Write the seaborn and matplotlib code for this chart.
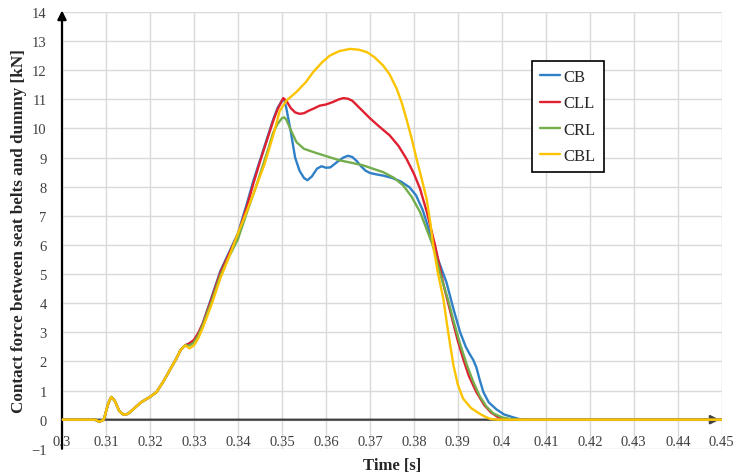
import pandas as pd
import matplotlib
matplotlib.use("Agg")
import matplotlib.pyplot as plt
import seaborn as sns

# 数据
early_t = [0.300, 0.305, 0.3075, 0.3085, 0.3095, 0.3105, 0.3112, 0.312, 0.313, 0.314,
           0.315, 0.3165, 0.318, 0.320, 0.3215, 0.323, 0.3245, 0.326, 0.327, 0.328]
early_f = [0.0, 0.0, 0.0, -0.07, 0.0, 0.55, 0.78, 0.65, 0.30, 0.17,
           0.20, 0.40, 0.60, 0.78, 0.95, 1.30, 1.70, 2.10, 2.40, 2.55]

cb_t = [0.329, 0.330, 0.331, 0.332, 0.333, 0.334, 0.336, 0.338, 0.340, 0.342, 0.3435,
        0.345, 0.3465, 0.348, 0.349, 0.350, 0.3505, 0.351, 0.352, 0.353, 0.354, 0.355,
        0.3558, 0.3568, 0.358, 0.359, 0.360, 0.361, 0.362, 0.363, 0.364, 0.365, 0.366,
        0.367, 0.368, 0.369, 0.370, 0.3715, 0.373, 0.375, 0.377, 0.379, 0.3805, 0.382,
        0.3836, 0.3855, 0.3874, 0.389, 0.3905, 0.3918, 0.3927, 0.3935, 0.3942, 0.395,
        0.3958, 0.397, 0.3988, 0.4005, 0.4026, 0.404, 0.406, 0.45]
cb_f = [2.62, 2.72, 2.95, 3.30, 3.75, 4.20, 5.10, 5.75, 6.40, 7.40, 8.20,
        8.90, 9.60, 10.30, 10.70, 10.95, 11.0, 10.70, 9.90, 9.00, 8.55, 8.30,
        8.22, 8.35, 8.62, 8.70, 8.65, 8.66, 8.78, 8.90, 9.00, 9.06, 9.02,
        8.88, 8.70, 8.55, 8.47, 8.42, 8.38, 8.30, 8.18, 7.98, 7.70, 7.20,
        6.44, 5.50, 4.72, 3.80, 3.01, 2.50, 2.25, 2.05, 1.80, 1.35,
        0.95, 0.60, 0.35, 0.18, 0.08, 0.02, 0.0, 0.0]

cll_t = [0.329, 0.330, 0.331, 0.332, 0.333, 0.334, 0.336, 0.338, 0.340, 0.342, 0.3435,
         0.345, 0.3465, 0.348, 0.349, 0.350, 0.3503, 0.351, 0.352, 0.353, 0.354, 0.355,
         0.356, 0.3575, 0.3586, 0.360, 0.3615, 0.363, 0.364, 0.365, 0.366, 0.367, 0.368,
         0.370, 0.372, 0.3745, 0.3765, 0.3783, 0.380, 0.3814, 0.383, 0.3848, 0.3858,
         0.3868, 0.3878, 0.3888, 0.390, 0.3912, 0.3925, 0.3942, 0.396, 0.3975, 0.399,
         0.401, 0.403, 0.45]
cll_f = [2.62, 2.74, 2.98, 3.30, 3.72, 4.15, 5.05, 5.70, 6.35, 7.30, 8.10,
         8.85, 9.55, 10.25, 10.65, 10.95, 11.04, 10.95, 10.70, 10.55, 10.50, 10.52,
         10.60, 10.70, 10.78, 10.82, 10.90, 11.00, 11.04, 11.02, 10.95, 10.80, 10.65,
         10.35, 10.08, 9.76, 9.40, 8.96, 8.45, 7.93, 7.10, 6.00, 5.30,
         4.60, 4.00, 3.40, 2.70, 2.09, 1.50, 0.95, 0.50, 0.25, 0.10,
         0.02, 0.0, 0.0]

crl_t = [0.329, 0.330, 0.331, 0.332, 0.333, 0.334, 0.336, 0.338, 0.340, 0.342, 0.344,
         0.3455, 0.347, 0.348, 0.349, 0.350, 0.3505, 0.351, 0.352, 0.3533, 0.355, 0.3571,
         0.360, 0.3632, 0.3655, 0.3685, 0.371, 0.373, 0.3755, 0.3776, 0.3795, 0.3814,
         0.383, 0.3843, 0.386, 0.3878, 0.389, 0.3905, 0.392, 0.3935, 0.395, 0.3965,
         0.398, 0.400, 0.402, 0.404, 0.45]
crl_f = [2.55, 2.65, 2.90, 3.25, 3.65, 4.05, 4.95, 5.60, 6.20, 7.10, 7.95,
         8.65, 9.35, 9.85, 10.15, 10.35, 10.38, 10.30, 9.95, 9.53, 9.30, 9.19,
         9.05, 8.90, 8.83, 8.73, 8.60, 8.50, 8.30, 8.04, 7.65, 7.13,
         6.50, 5.98, 5.00, 4.10, 3.40, 2.60, 1.90, 1.30, 0.80, 0.45,
         0.22, 0.08, 0.02, 0.0, 0.0]

cbl_t = [0.329, 0.330, 0.331, 0.332, 0.333, 0.334, 0.336, 0.338, 0.340, 0.342, 0.344,
         0.346, 0.348, 0.3495, 0.351, 0.3533, 0.3555, 0.3571, 0.359, 0.3609, 0.363,
         0.3655, 0.3675, 0.3693, 0.371, 0.373, 0.3745, 0.3761, 0.3772, 0.3783, 0.3795,
         0.3806, 0.3818, 0.3829, 0.3837, 0.3844, 0.3855, 0.3867, 0.3878, 0.389, 0.390,
         0.3912, 0.393, 0.395, 0.3965, 0.3975, 0.399, 0.45]
cbl_f = [2.45, 2.55, 2.80, 3.15, 3.55, 3.95, 4.85, 5.60, 6.40, 7.15, 7.95,
         8.75, 9.75, 10.60, 10.95, 11.25, 11.60, 11.93, 12.25, 12.50, 12.65,
         12.73, 12.70, 12.62, 12.45, 12.16, 11.85, 11.36, 10.90, 10.33, 9.65,
         8.96, 8.25, 7.58, 6.80, 5.98, 5.00, 4.15, 3.00, 1.86, 1.20,
         0.72, 0.40, 0.20, 0.08, 0.02, 0.0, 0.0]

series = {
    'CB': (cb_t, cb_f),
    'CLL': (cll_t, cll_f),
    'CRL': (crl_t, crl_f),
    'CBL': (cbl_t, cbl_f),
}
colors = ['#2f80c6', '#e01f30', '#74ad4c', '#fcc400']
x_ticks = [0.30, 0.31, 0.32, 0.33, 0.34, 0.35, 0.36, 0.37, 0.38, 0.39, 0.40,
           0.41, 0.42, 0.43, 0.44, 0.45]
y_ticks = list(range(-1, 15))

rows = []
for name, (t, f) in series.items():
    for ti, fi in zip(early_t + t, early_f + f):
        rows.append({'time': ti, 'force': fi, 'case': name})
df = pd.DataFrame(rows)

sns.set_style('whitegrid')
plt.rcParams['font.family'] = ['Liberation Serif', 'DejaVu Serif']
plt.rcParams['axes.unicode_minus'] = True

fig = plt.figure(figsize=(7.38, 4.77), dpi=100)
ax = fig.add_axes([0.084, 0.057, 0.894, 0.916])

sns.lineplot(data=df, x='time', y='force', hue='case', palette=colors,
             estimator=None, sort=False, linewidth=1.7, zorder=3, ax=ax)

ax.set_xlim(0.30, 0.45)
ax.set_ylim(-1, 14)
ax.set_xticks(x_ticks)
ax.set_xticklabels([f'{v:g}' for v in x_ticks])
ax.set_yticks(y_ticks)
ax.grid(True, color='#d9d9d9', linewidth=1.0)
ax.spines['bottom'].set_position(('data', 0))
for s in ax.spines.values():
    s.set_visible(False)
ax.tick_params(axis='both', length=0, labelsize=10.5, labelcolor='#404040')
ax.tick_params(axis='x', pad=11)
ax.tick_params(axis='y', pad=11)

# 坐标轴箭头
ax.annotate('', xy=(0.30, 14.05), xytext=(0.30, -1), annotation_clip=False,
            arrowprops=dict(arrowstyle='-|>', color='black', lw=1.6,
                            mutation_scale=13, shrinkA=0, shrinkB=0), zorder=2)
ax.annotate('', xy=(0.4495, 0), xytext=(0.30, 0), annotation_clip=False,
            arrowprops=dict(arrowstyle='-|>', color='#404040', lw=1.6,
                            mutation_scale=13, shrinkA=0, shrinkB=0), zorder=2)

ax.set_xlabel('Time [s]', fontsize=12, fontweight='bold')
ax.xaxis.set_label_coords(0.5, -0.018)
ax.set_ylabel('Contact force between seat belts and dummy [kN]', fontsize=12.3,
              fontweight='bold')
ax.yaxis.set_label_coords(-0.053, 0.50)

leg = ax.legend(loc='upper left', bbox_to_anchor=(0.712, 0.888), frameon=True,
                fancybox=False, framealpha=1, edgecolor='black', fontsize=12,
                handlelength=1.2, handletextpad=0.2, labelspacing=0.62,
                borderpad=0.5, borderaxespad=0)
leg.get_frame().set_linewidth(1.2)
leg.set_zorder(5)

fig.savefig('out.png', dpi=100)
